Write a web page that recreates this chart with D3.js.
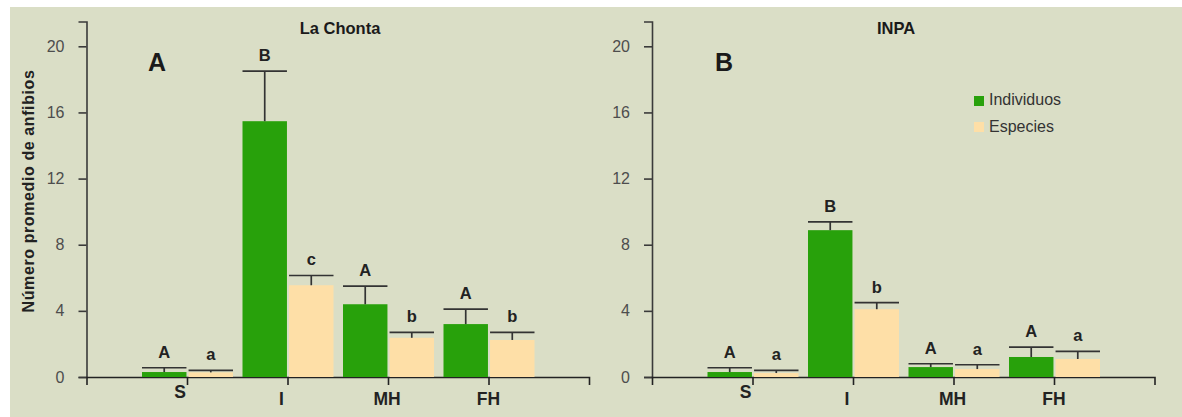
<!DOCTYPE html>
<html>
<head>
<meta charset="utf-8">
<script src="https://cdn.jsdelivr.net/npm/d3@7"></script>
<style>
  html, body { margin: 0; padding: 0; background: #ffffff; }
  svg { display: block; font-family: "Liberation Sans", Arial, Helvetica, sans-serif; }
</style>
</head>
<body>
<svg id="chart" width="1182" height="417"></svg>
<script>
// Habitat categories along the x axis
const categories = ["S", "I", "MH", "FH"];
const seriesNames = ["Individuos", "Especies"];
const yTicks = [0, 4, 8, 12, 16, 20];

// La Chonta: mean and mean + error
const chontaIndividuos = [0.3, 15.47, 4.4, 3.2];
const chontaIndividuosErr = [0.56, 18.5, 5.5, 4.1];
const chontaEspecies = [0.28, 5.55, 2.37, 2.24];
const chontaEspeciesErr = [0.4, 6.14, 2.7, 2.7];
const chontaLetrasInd = ["A", "B", "A", "A"];
const chontaLetrasEsp = ["a", "c", "b", "b"];

// INPA: mean and mean + error
const inpaIndividuos = [0.3, 8.88, 0.6, 1.21];
const inpaIndividuosErr = [0.56, 9.38, 0.8, 1.81];
const inpaEspecies = [0.24, 4.1, 0.48, 1.09];
const inpaEspeciesErr = [0.4, 4.5, 0.74, 1.55];
const inpaLetrasInd = ["A", "B", "A", "A"];
const inpaLetrasEsp = ["a", "b", "a", "a"];

const colors = { "Individuos": "#28a10b", "Especies": "#fedfa7" };

const svg = d3.select("#chart");

// panel background
svg.append("rect")
  .attr("x", 10).attr("y", 7)
  .attr("width", 1172).attr("height", 410)
  .attr("fill", "#dadec6");

const y = d3.scaleLinear().domain([0, 21.5]).range([377, 21.5]);

// small per-label nudges for the category names (dx, dy)
const labelNudge = { S: [-7, -7], I: [-6, 0], MH: [-1, 0], FH: [0, 0] };

function drawPanel(opts) {
  const g = svg.append("g");
  const x = d3.scalePoint().domain(categories).range(opts.xRange).padding(1);
  const inner = d3.scaleBand().domain(seriesNames).range([-45, 46]).paddingInner(0.045);

  // y axis
  const yAxis = g.append("g")
    .attr("transform", `translate(${opts.xRange[0]},0)`)
    .call(d3.axisLeft(y).tickValues(yTicks).tickSizeInner(8).tickSizeOuter(8).tickPadding(14));
  yAxis.selectAll("path, line").attr("stroke", "#3a3a3a").attr("stroke-width", 1.6);
  yAxis.selectAll("text")
    .attr("font-size", 16).attr("fill", "#4d4d4d")
    .attr("font-family", "'Liberation Sans', Arial, sans-serif");

  // x axis
  const xAxis = g.append("g")
    .attr("transform", `translate(0,${y(0)})`)
    .call(d3.axisBottom(x).tickSizeInner(8).tickSizeOuter(8).tickFormat(""));
  xAxis.selectAll("path, line").attr("stroke", "#222").attr("stroke-width", 1.6);

  g.selectAll("text.cat")
    .data(categories)
    .join("text")
    .attr("class", "cat")
    .attr("x", d => x(d) + labelNudge[d][0])
    .attr("y", d => 405 + labelNudge[d][1])
    .attr("text-anchor", "middle")
    .attr("font-size", 17.5).attr("font-weight", "bold").attr("fill", "#222")
    .text(d => d);

  const series = [
    { name: "Individuos", vals: opts.ind, err: opts.indErr, letters: opts.letInd },
    { name: "Especies", vals: opts.esp, err: opts.espErr, letters: opts.letEsp }
  ];

  series.forEach(s => {
    const rows = categories.map((c, i) => ({ c, v: s.vals[i], e: s.err[i], l: s.letters[i] }));
    const bw = inner.bandwidth();
    const bx = d => x(d.c) + inner(s.name);

    g.selectAll(null).data(rows).join("rect")
      .attr("x", bx)
      .attr("y", d => y(d.v))
      .attr("width", bw)
      .attr("height", d => y(0) - y(d.v))
      .attr("fill", colors[s.name]);

    // error whisker
    g.selectAll(null).data(rows).join("line")
      .attr("x1", d => bx(d) + bw / 2).attr("x2", d => bx(d) + bw / 2)
      .attr("y1", d => y(d.v)).attr("y2", d => y(d.e))
      .attr("stroke", "#333").attr("stroke-width", 1.7);
    g.selectAll(null).data(rows).join("line")
      .attr("x1", d => bx(d)).attr("x2", d => bx(d) + bw)
      .attr("y1", d => y(d.e)).attr("y2", d => y(d.e))
      .attr("stroke", "#333").attr("stroke-width", 1.7);

    // significance letters
    g.selectAll(null).data(rows).join("text")
      .attr("x", d => bx(d) + bw / 2)
      .attr("y", d => y(d.e) - 10)
      .attr("text-anchor", "middle")
      .attr("font-size", 16.5).attr("font-weight", "bold").attr("fill", "#222")
      .text(d => d.l);
  });

  // panel title
  g.append("text")
    .attr("x", opts.titleX).attr("y", 34)
    .attr("text-anchor", "middle")
    .attr("font-size", 16.5).attr("font-weight", "bold").attr("fill", "#1a1a1a")
    .text(opts.title);

  // panel letter
  g.append("text")
    .attr("x", opts.letterX).attr("y", 71)
    .attr("font-size", 25).attr("font-weight", "bold").attr("fill", "#1a1a1a")
    .text(opts.letter);
}

drawPanel({
  xRange: [86.5, 589], title: "La Chonta", titleX: 340, letter: "A", letterX: 148,
  ind: chontaIndividuos, indErr: chontaIndividuosErr,
  esp: chontaEspecies, espErr: chontaEspeciesErr,
  letInd: chontaLetrasInd, letEsp: chontaLetrasEsp
});

drawPanel({
  xRange: [652, 1154.5], title: "INPA", titleX: 896, letter: "B", letterX: 715,
  ind: inpaIndividuos, indErr: inpaIndividuosErr,
  esp: inpaEspecies, espErr: inpaEspeciesErr,
  letInd: inpaLetrasInd, letEsp: inpaLetrasEsp
});

// y axis title
svg.append("text")
  .attr("transform", "translate(34,191) rotate(-90)")
  .attr("text-anchor", "middle")
  .attr("font-size", 16).attr("font-weight", "bold").attr("fill", "#222")
  .attr("letter-spacing", 0.6)
  .text("Número promedio de anfibios");

// legend
const legend = svg.append("g").attr("transform", "translate(974,96)");
seriesNames.forEach((name, i) => {
  legend.append("rect")
    .attr("x", 0).attr("y", i * 26)
    .attr("width", 10).attr("height", 10)
    .attr("fill", colors[name]);
  legend.append("text")
    .attr("x", 15).attr("y", i * 27.5 + 8.5)
    .attr("font-size", 16).attr("fill", "#333")
    .text(name);
});
</script>
</body>
</html>
